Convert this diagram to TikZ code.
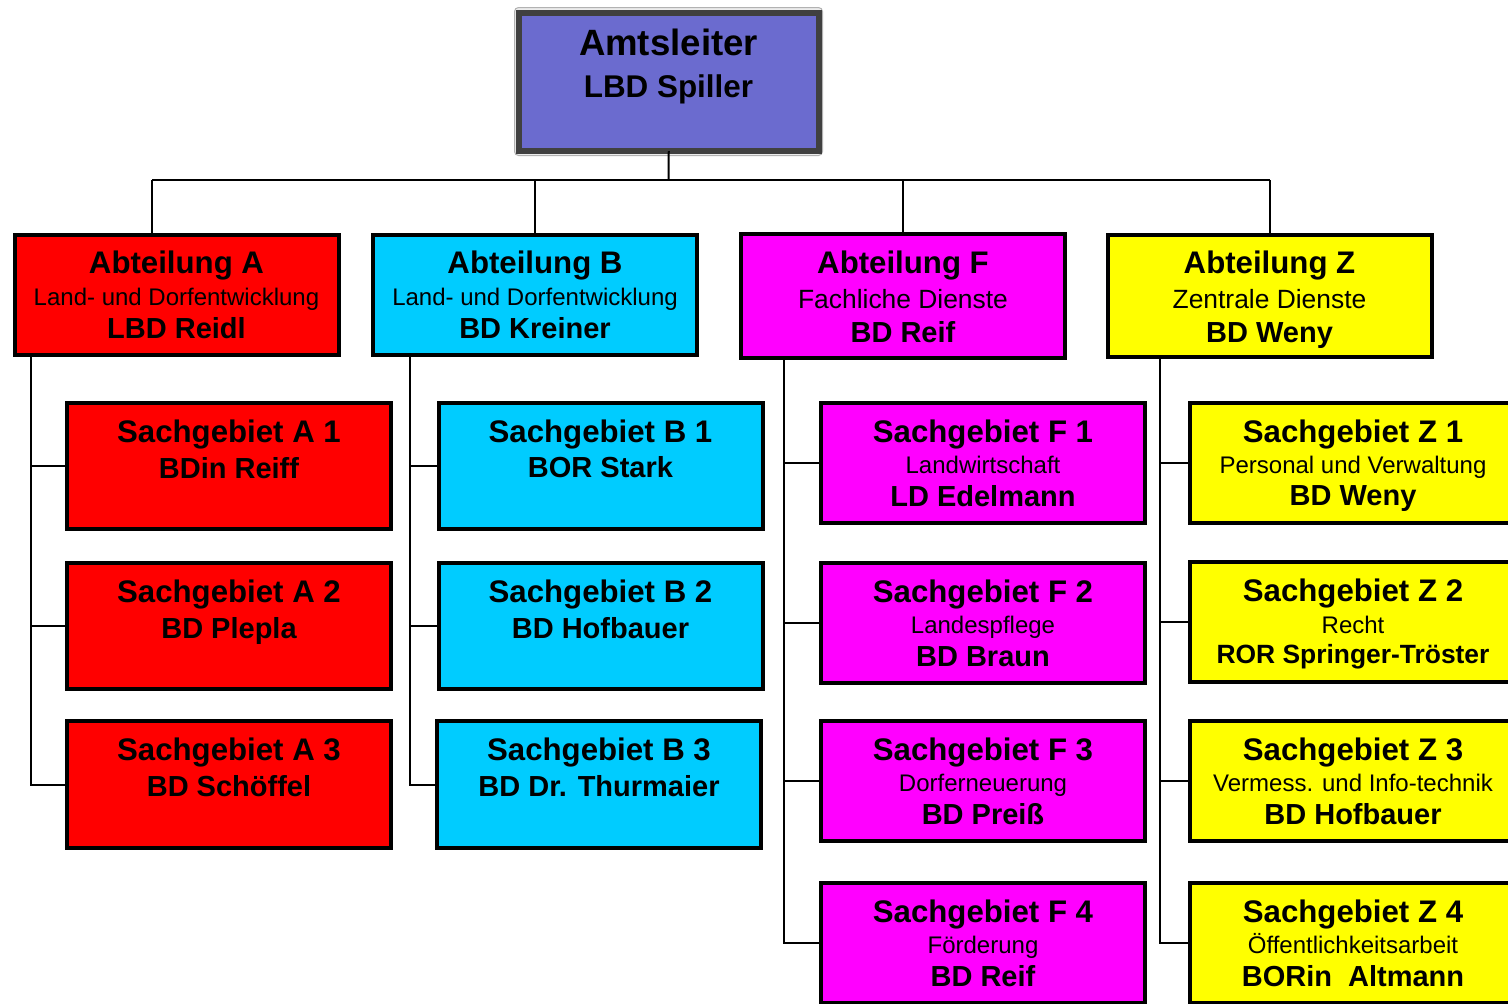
\documentclass[tikz,border=0pt]{standalone}
\usepackage{fontspec}
\setmainfont{Liberation Sans}
\definecolor{cRed}{HTML}{FF0000}
\definecolor{cCyan}{HTML}{00CCFF}
\definecolor{cMag}{HTML}{FF00FF}
\definecolor{cYel}{HTML}{FFFF00}
\definecolor{cBlue}{HTML}{6B6BCF}
\definecolor{cDark}{HTML}{404040}
\begin{document}
\begin{tikzpicture}[x=0.5pt,y=-0.5pt,
 box/.style={draw=black,line width=2pt,inner sep=0pt,outer sep=0pt},
 conn/.style={draw=black,line width=1pt},
 ttl/.style={anchor=base,inner sep=0pt,font=\bfseries\fontsize{15.6}{18}\selectfont},
 nm/.style={anchor=base,inner sep=0pt,font=\bfseries\fontsize{14.5}{17}\selectfont},
 sub/.style={anchor=base,inner sep=0pt,font=\fontsize{12}{14}\selectfont},
 subl/.style={anchor=base,inner sep=0pt,font=\fontsize{13.2}{15}\selectfont},
 abt/.style={box,minimum width=162pt,minimum height=60pt},
 sgAB/.style={box,minimum width=162pt,minimum height=63pt},
 sgFZ/.style={box,minimum width=162pt,minimum height=60pt},
]
\useasboundingbox (0,0) rectangle (1508,1003);
\clip (0,0) rectangle (1508,1003);
\fill[white] (0,0) rectangle (1508,1003);

% top box
\node[draw=gray!60,line width=0.5pt,fill=gray!15,rounded corners=2pt,minimum width=154pt,minimum height=74pt,inner sep=0pt] (topo) at (668.5,81.5) {};
\node[draw=cDark,line width=3pt,fill=cBlue,minimum width=149.75pt,minimum height=69.25pt,inner sep=0pt,outer sep=0pt] (top) at (668.75,81.75) {};
\node[anchor=base,inner sep=0pt,font=\bfseries\fontsize{18.3}{20}\selectfont] (topt1) at (668.5,55) {Amtsleiter};
\node[anchor=base,inner sep=0pt,font=\bfseries\fontsize{15.7}{18}\selectfont] (topt2) at (668.5,97) {LBD Spiller};

% Abteilungen
\node[abt,fill=cRed] (abtA) at (176.5,295) {};
\node[ttl] (abtAt1) at (176.5,273) {Abteilung A};
\node[sub] (abtAt2) at (176.5,305) {Land- und Dorfentwicklung};
\node[nm] (abtAt3) at (176.5,338) {LBD Reidl};

\node[abt,fill=cCyan] (abtB) at (535,295) {};
\node[ttl] (abtBt1) at (535,273) {Abteilung B};
\node[sub] (abtBt2) at (535,305) {Land- und Dorfentwicklung};
\node[nm] (abtBt3) at (535,338) {BD Kreiner};

\node[abt,fill=cMag,minimum height=62pt] (abtF) at (903,296) {};
\node[ttl] (abtFt1) at (903,273) {Abteilung F};
\node[subl] (abtFt2) at (903,308) {Fachliche Dienste};
\node[nm] (abtFt3) at (903,342) {BD Reif};

\node[abt,fill=cYel,minimum height=61pt] (abtZ) at (1269.5,296) {};
\node[ttl] (abtZt1) at (1269.5,273) {Abteilung Z};
\node[subl] (abtZt2) at (1269.5,308) {Zentrale Dienste};
\node[nm] (abtZt3) at (1269.5,342) {BD Weny};

% Sachgebiete A
\node[sgAB,fill=cRed] (a1) at (229,466) {};
\node[ttl] (a1t1) at (229,442) {Sachgebiet A 1};
\node[nm] (a1t2) at (229,478) {BDin Reiff};
\node[sgAB,fill=cRed] (a2) at (229,626) {};
\node[ttl] (a2t1) at (229,602) {Sachgebiet A 2};
\node[nm] (a2t2) at (229,638) {BD Plepla};
\node[sgAB,fill=cRed,minimum height=63.5pt] (a3) at (229,784.5) {};
\node[ttl] (a3t1) at (229,760) {Sachgebiet A 3};
\node[nm] (a3t2) at (229,796.5) {BD Schöffel};

% Sachgebiete B
\node[sgAB,fill=cCyan] (b1) at (600.5,466) {};
\node[ttl] (b1t1) at (600.5,442.5) {Sachgebiet B 1};
\node[nm] (b1t2) at (600.5,477.5) {BOR Stark};
\node[sgAB,fill=cCyan] (b2) at (600.5,626) {};
\node[ttl] (b2t1) at (600.5,602) {Sachgebiet B 2};
\node[nm] (b2t2) at (600.5,638) {BD Hofbauer};
\node[sgAB,fill=cCyan,minimum height=63.5pt] (b3) at (599,784.5) {};
\node[ttl] (b3t1) at (599,760) {Sachgebiet B 3};
\node[nm] (b3t2) at (599,796.5) {BD Dr. Thurmaier};

% Sachgebiete F
\node[sgFZ,fill=cMag] (f1) at (983,463) {};
\node[ttl] (f1t1) at (983,442.5) {Sachgebiet F 1};
\node[sub] (f1t2) at (983,473.5) {Landwirtschaft};
\node[nm] (f1t3) at (983,506) {LD Edelmann};
\node[sgFZ,fill=cMag] (f2) at (983,623) {};
\node[ttl] (f2t1) at (983,602.5) {Sachgebiet F 2};
\node[sub] (f2t2) at (983,633.5) {Landespflege};
\node[nm] (f2t3) at (983,666) {BD Braun};
\node[sgFZ,fill=cMag] (f3) at (983,781) {};
\node[ttl] (f3t1) at (983,760.5) {Sachgebiet F 3};
\node[sub] (f3t2) at (983,791.5) {Dorferneuerung};
\node[nm] (f3t3) at (983,824) {BD Preiß};
\node[sgFZ,fill=cMag] (f4) at (983,943) {};
\node[ttl] (f4t1) at (983,922.5) {Sachgebiet F 4};
\node[sub] (f4t2) at (983,953.5) {Förderung};
\node[nm] (f4t3) at (983,986) {BD Reif};

% Sachgebiete Z
\node[sgFZ,fill=cYel,minimum width=163pt] (z1) at (1353,462.5) {};
\node[ttl] (z1t1) at (1353,442.5) {Sachgebiet Z 1};
\node[sub] (z1t2) at (1353,473.5) {Personal und Verwaltung};
\node[nm] (z1t3) at (1353,505) {BD Weny};
\node[sgFZ,fill=cYel,minimum width=163pt] (z2) at (1353,622) {};
\node[ttl] (z2t1) at (1353,601.5) {Sachgebiet Z 2};
\node[sub] (z2t2) at (1353,633) {Recht};
\node[nm,font=\bfseries\fontsize{13.2}{15}\selectfont] (z2t3) at (1353,663.5) {ROR Springer-Tröster};
\node[sgFZ,fill=cYel,minimum width=163pt] (z3) at (1353,781) {};
\node[ttl] (z3t1) at (1353,760.5) {Sachgebiet Z 3};
\node[sub] (z3t2) at (1353,791.5) {Vermess. und Info-technik};
\node[nm] (z3t3) at (1353,824) {BD Hofbauer};
\node[sgFZ,fill=cYel,minimum width=163pt] (z4) at (1353,943) {};
\node[ttl] (z4t1) at (1353,922.5) {Sachgebiet Z 4};
\node[sub] (z4t2) at (1353,953.5) {Öffentlichkeitsarbeit};
\node[nm] (z4t3) at (1353,986) {BORin~~Altmann};

% connectors top level
\coordinate (hA) at (152,180);
\coordinate (hZ) at (1270,180);
\coordinate (hT) at (668.5,180);
\draw[conn] (top.south) -- (hT);
\draw[conn] (hA) -- (hZ);
\draw[conn] (hA) -- (abtA.north -| hA);
\draw[conn] (abtB.north |- hA) -- (abtB.north);
\draw[conn] (abtF.north |- hA) -- (abtF.north);
\draw[conn] (hZ) -- (abtZ.north -| hZ);

% trunks
\coordinate (tA) at (31,0);
\coordinate (tB) at (410,0);
\coordinate (tF) at (784,0);
\coordinate (tZ) at (1160,0);
\draw[conn] (abtA.south -| tA) |- (a3.west);
\draw[conn] (a1.west) -- (a1.west -| tA);
\draw[conn] (a2.west) -- (a2.west -| tA);
\draw[conn] (abtB.south -| tB) |- (b3.west);
\draw[conn] (b1.west) -- (b1.west -| tB);
\draw[conn] (b2.west) -- (b2.west -| tB);
\draw[conn] (abtF.south -| tF) |- (f4.west);
\draw[conn] (f1.west) -- (f1.west -| tF);
\draw[conn] (f2.west) -- (f2.west -| tF);
\draw[conn] (f3.west) -- (f3.west -| tF);
\draw[conn] (abtZ.south -| tZ) |- (z4.west);
\draw[conn] (z1.west) -- (z1.west -| tZ);
\draw[conn] (z2.west) -- (z2.west -| tZ);
\draw[conn] (z3.west) -- (z3.west -| tZ);
\end{tikzpicture}
\end{document}
